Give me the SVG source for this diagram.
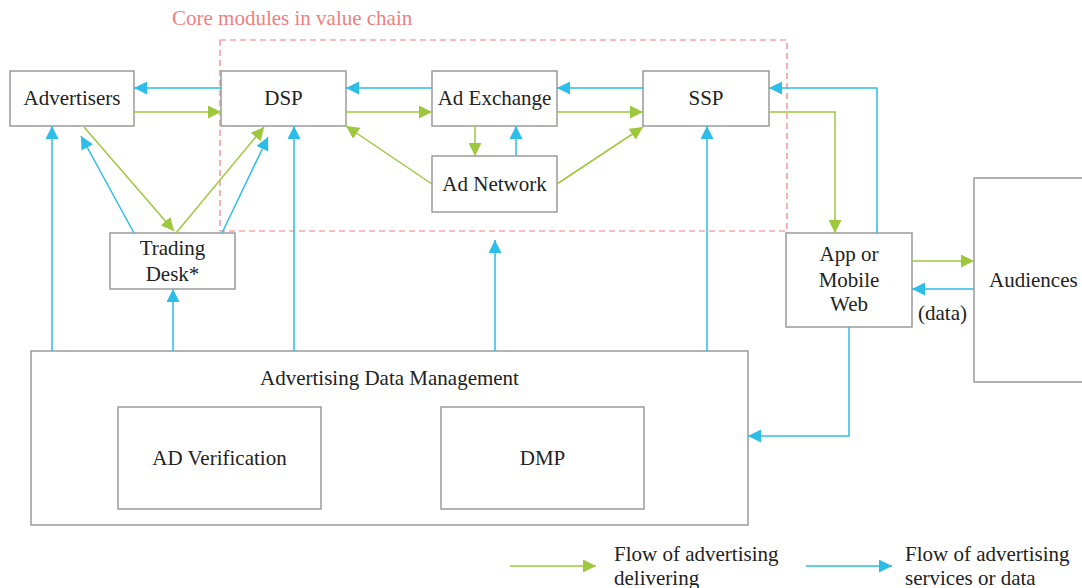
<svg xmlns="http://www.w3.org/2000/svg" width="1082" height="588" viewBox="0 0 1082 588">
<defs>
<marker id="ag" viewBox="0 0 13 13" refX="13" refY="6.5" markerWidth="13" markerHeight="13" markerUnits="userSpaceOnUse" orient="auto"><path d="M0,0 L13,6.5 L0,13 z" fill="#9dc83c"/></marker>
<marker id="ab" viewBox="0 0 13 13" refX="13" refY="6.5" markerWidth="13" markerHeight="13" markerUnits="userSpaceOnUse" orient="auto"><path d="M0,0 L13,6.5 L0,13 z" fill="#2cbde8"/></marker>
</defs>
<style>
.box{fill:#fff;stroke:#9a9a9a;stroke-width:1.5}
text{font-family:'Liberation Serif','DejaVu Serif',serif;font-size:21px;fill:#222}
.c{text-anchor:middle}
.g{fill:none;stroke:#9dc83c;stroke-width:1.5;marker-end:url(#ag)}
.b{fill:none;stroke:#2cbde8;stroke-width:1.5;marker-end:url(#ab)}
</style>
<rect width="1082" height="588" fill="#fff"/>
<g id="core-region">
<rect x="220" y="40" width="567" height="191" fill="none" stroke="#ef7f7f" stroke-width="1.2" stroke-dasharray="6,4"/>
<text x="172" y="25" style="fill:#ef7f7f">Core modules in value chain</text>
</g>
<g id="advertisers"><rect class="box" x="10" y="71" width="124" height="55"/><text class="c" x="72" y="105">Advertisers</text></g>
<g id="dsp"><rect class="box" x="221" y="71" width="125" height="55"/><text class="c" x="283.5" y="105">DSP</text></g>
<g id="ad-exchange"><rect class="box" x="432" y="71" width="125" height="55"/><text class="c" x="494.5" y="105">Ad Exchange</text></g>
<g id="ssp"><rect class="box" x="643" y="71" width="126" height="55"/><text class="c" x="706" y="105">SSP</text></g>
<g id="ad-network"><rect class="box" x="432" y="156" width="125" height="56"/><text class="c" x="494.5" y="191">Ad Network</text></g>
<g id="trading-desk"><rect class="box" x="110" y="233" width="125" height="56"/><text class="c" x="172.5" y="255">Trading</text><text class="c" x="172.5" y="281">Desk*</text></g>
<g id="app-mobile-web"><rect class="box" x="786" y="233" width="126" height="94"/><text class="c" x="849" y="261">App or</text><text class="c" x="849" y="287">Mobile</text><text class="c" x="849" y="311">Web</text></g>
<g id="audiences"><rect class="box" x="974" y="178" width="120" height="204"/><text x="989" y="287">Audiences</text></g>
<g id="advertising-data-management"><rect class="box" x="31" y="351" width="717" height="174"/><text class="c" x="389.5" y="385">Advertising Data Management</text></g>
<g id="ad-verification"><rect class="box" x="118" y="407" width="203" height="102"/><text class="c" x="219.5" y="465">AD Verification</text></g>
<g id="dmp"><rect class="box" x="441" y="407" width="203" height="102"/><text class="c" x="542.5" y="465">DMP</text></g>
<g id="connectors">
<path class="b" d="M221,88 H134"/>
<path class="b" d="M432,88 H346"/>
<path class="b" d="M643,88 H557"/>
<path class="b" d="M516,156 V126"/>
<path class="b" d="M877,233 V88 H769"/>
<path class="b" d="M974,289 H912"/>
<path class="b" d="M849,327 V436 H748"/>
<path class="b" d="M134,233 L81,136"/>
<path class="b" d="M222,233 L268,137"/>
<path class="b" d="M52,351 V126"/>
<path class="b" d="M173,351 V289"/>
<path class="b" d="M294,351 V126"/>
<path class="b" d="M495,351 V240"/>
<path class="b" d="M707,351 V126"/>
<path class="g" d="M134,112 H221"/>
<path class="g" d="M346,112 H432"/>
<path class="g" d="M557,112 H643"/>
<path class="g" d="M475,126 V156"/>
<path class="g" d="M432,184 L346,126"/>
<path class="g" d="M557,184 L643,127"/>
<path class="g" d="M769,112 H835 V233"/>
<path class="g" d="M912,261 H974"/>
<path class="g" d="M84,127 L174,231"/>
<path class="g" d="M176,233 L264,127"/>
<text x="918" y="320">(data)</text>
</g>
<g id="legend">
<path class="g" d="M510,566 H596"/>
<text x="614" y="561">Flow of advertising</text>
<text x="614" y="585">delivering</text>
<path class="b" d="M806,566 H892"/>
<text x="905" y="561">Flow of advertising</text>
<text x="905" y="585">services or data</text>
</g>
</svg>
